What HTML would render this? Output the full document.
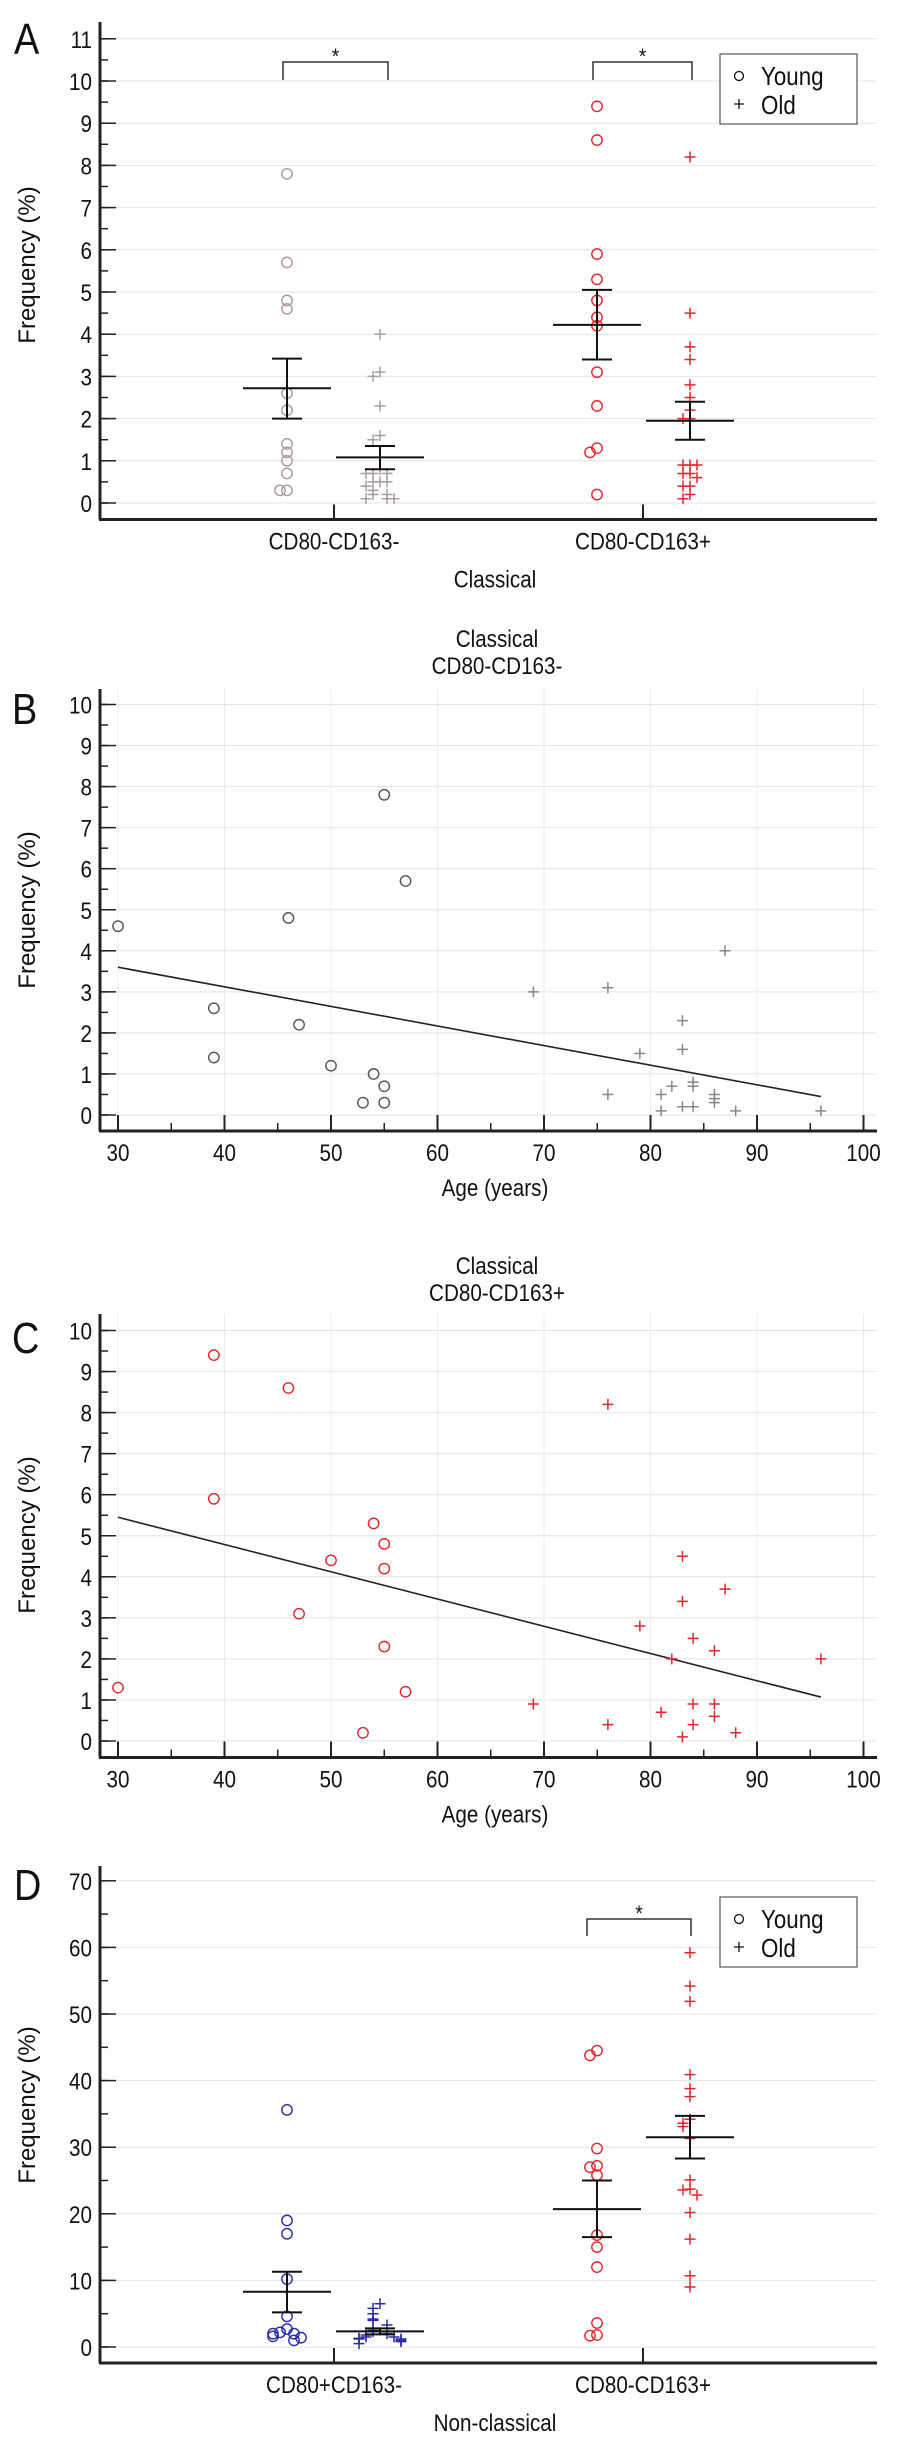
<!DOCTYPE html>
<html><head><meta charset="utf-8"><style>
body{margin:0;background:#fff}
svg{display:block;font-family:"Liberation Sans",sans-serif}
</style></head><body>
<svg id="fig" width="900" height="2443" viewBox="0 0 900 2443" xmlns="http://www.w3.org/2000/svg"></svg>
<script>
// Panel A data (Classical)
const catsA = ["CD80-CD163-","CD80-CD163+"];
const aYoung1 = [7.8,5.7,4.8,4.6,2.6,2.2,1.4,1.2,1.0,0.7,0.3,0.3];
const aOld1 = [4.0,3.1,3.0,2.3,1.6,1.5,0.8,0.7,0.7,0.7,0.5,0.5,0.5,0.4,0.3,0.2,0.2,0.1,0.1,0.1];
const aYoung2 = [9.4,8.6,5.9,5.3,4.8,4.4,4.2,3.1,2.3,1.3,1.2,0.2];
const aOld2 = [8.2,4.5,3.7,3.4,2.8,2.5,2.2,2.0,2.0,0.9,0.9,0.9,0.7,0.7,0.6,0.4,0.4,0.2,0.1];
const aMeans = [2.72,1.08,4.22,1.95];
const aErrLo = [2.0,0.8,3.4,1.5];
const aErrHi = [3.42,1.35,5.05,2.4];
const aTicks = [0,1,2,3,4,5,6,7,8,9,10,11];
// Panel B data
const bYoungAge = [30,39,39,46,47,50,54,55,55,53,55,57];
const bYoungVal = [4.6,2.6,1.4,4.8,2.2,1.2,1.0,0.7,0.3,0.3,7.8,5.7];
const bOldAge = [69,76,76,79,81,81,82,83,83,83,84,84,84,86,86,86,87,88,96];
const bOldVal = [3.0,3.1,0.5,1.5,0.5,0.1,0.7,2.3,1.6,0.2,0.8,0.7,0.2,0.5,0.4,0.3,4.0,0.1,0.1];
const bFit = [3.6,0.45];
// Panel C data
const cYoungAge = [39,46,39,54,55,50,55,47,55,30,57,53];
const cYoungVal = [9.4,8.6,5.9,5.3,4.8,4.4,4.2,3.1,2.3,1.3,1.2,0.2];
const cOldAge = [76,83,87,83,79,84,86,82,96,69,84,86,81,86,76,84,88,83];
const cOldVal = [8.2,4.5,3.7,3.4,2.8,2.5,2.2,2.0,2.0,0.9,0.9,0.9,0.7,0.6,0.4,0.4,0.2,0.1];
const cFit = [5.45,1.07];
const fitAges = [30,96];
const ageTicks = [30,40,50,60,70,80,90,100];
const freqTicks = [0,1,2,3,4,5,6,7,8,9,10];
// Panel D data (Non-classical)
const catsD = ["CD80+CD163-","CD80-CD163+"];
const dYoung1 = [35.6,19,17,10.2,4.6,2.7,2.2,2.0,2.0,1.6,1.4,1.0];
const dOld1 = [6.5,5.8,5.0,4.2,4.0,3.3,2.5,2.3,2.0,1.8,1.5,1.5,1.3,1.2,1.2,1.0,0.8,0.5];
const dYoung2 = [44.5,43.8,29.8,27.2,27.0,25.8,16.8,15.0,12.0,3.6,1.8,1.7];
const dOld2 = [59.2,54.2,51.9,40.9,38.8,37.6,34.2,33.6,33.1,31.3,25.1,23.7,23.6,22.8,20.2,16.2,10.7,9.0];
const dMeans = [8.3,2.35,20.7,31.5];
const dErrLo = [5.2,1.9,16.5,28.3];
const dErrHi = [11.3,2.8,25.0,34.7];
const dTicks = [0,10,20,30,40,50,60,70];

const NS="http://www.w3.org/2000/svg";
const svg=document.getElementById('fig');
function mk(tag,attrs,parent,text){const e=document.createElementNS(NS,tag);for(const k in attrs)e.setAttribute(k,attrs[k]);if(text!==undefined)e.textContent=text;(parent||svg).appendChild(e);return e;}
function txt(x,y,s,size,anchor,parent,name,extra){
  const a=Object.assign({x:0,y:0,'font-size':size,'text-anchor':anchor||'middle',fill:'#111',transform:`translate(${x},${y}) scale(0.86,1)`},extra||{});
  const t=mk('text',a,parent,s);
  
  
  return t;}
const L=100, R=877;

function circle(g,x,y,col,name){const c=mk('circle',{cx:x,cy:y,r:5.2,fill:'none',stroke:col,'stroke-width':1.4},g);

}
function plus(g,x,y,col,name){const p=mk('path',{d:`M${x-5.5},${y}h11M${x},${y-5.5}v11`,stroke:col,'stroke-width':1.5,fill:'none'},g);

}

function yAxis(g,top,y,ticks,minorStep,axisBottom){
  mk('line',{x1:L,y1:top,x2:L,y2:axisBottom,stroke:'#222','stroke-width':3},g);
  const lo=ticks[0],hi=ticks[ticks.length-1];
  for(let v=lo;v<=hi+1e-9;v+=minorStep){mk('line',{x1:L,y1:y(v),x2:L+8,y2:y(v),stroke:'#222','stroke-width':1.5},g);}
  ticks.forEach(v=>{
    mk('line',{x1:L,y1:y(v),x2:R,y2:y(v),stroke:'#e4e4e4','stroke-width':1},g);
    mk('line',{x1:L,y1:y(v),x2:L+16,y2:y(v),stroke:'#222','stroke-width':1.5},g);
    txt(L-8,y(v)+9,String(v),24,'end',g,'y-tick-label');
  });
}
function yTitle(g,cy){txt(0,0,'Frequency (%)',24,'middle',g,'y-axis-title',{transform:`translate(35,${cy}) rotate(-90)`});}

function jitterX(vals,cx,thr,step){
  const out=[];
  vals.forEach((v,i)=>{let k=0;for(let j=0;j<i;j++){if(Math.abs(vals[j]-v)<thr)k++;}
    const off=k===0?0:(k%2===1?-1:1)*Math.ceil(k/2)*step;out.push(cx+off);});
  return out;
}

function dotPanel(opts){
  const g=mk('g',{});
  
  
  const y=v=>opts.y0-(v-opts.ticks[0])*opts.unit;
  yAxis(g,opts.top,y,opts.ticks,opts.minor,opts.axisY);
  mk('line',{x1:L-1,y1:opts.axisY,x2:R,y2:opts.axisY,stroke:'#222','stroke-width':3},g);
  const catX=[334,643];
  catX.forEach((cx,i)=>{mk('line',{x1:cx,y1:opts.axisY,x2:cx,y2:opts.axisY-15,stroke:'#222','stroke-width':2},g);
    txt(cx,opts.axisY+30,opts.cats[i],24,'middle',g,'category-label');});
  txt(495,opts.axisY+68,opts.xTitle,24,'middle',g,'x-axis-title');
  yTitle(g,opts.titleY);
  txt(14,opts.letterY,opts.letter,44,'start',g,'panel-letter');
  const groups=[[opts.y1,catX[0]-47,'c',opts.col1y],[opts.o1,catX[0]+46,'p',opts.col1o],[opts.y2,catX[1]-46,'c',opts.col2y],[opts.o2,catX[1]+47,'p',opts.col2o]];
  groups.forEach((gr,gi)=>{
    const xs=jitterX(gr[0],gr[1],opts.thr,opts.step);
    gr[0].forEach((v,i)=>{ if(gr[2]==='c')circle(g,xs[i],y(v),gr[3],'young-point'); else plus(g,xs[i],y(v),gr[3],'old-point');});
    const cx=gr[1];
    const m=mk('line',{x1:cx-44,y1:y(opts.means[gi]),x2:cx+44,y2:y(opts.means[gi]),stroke:'#111','stroke-width':2},g);
    
    
    const e=mk('path',{d:`M${cx},${y(opts.lo[gi])}V${y(opts.hi[gi])}M${cx-15},${y(opts.lo[gi])}h30M${cx-15},${y(opts.hi[gi])}h30`,stroke:'#111','stroke-width':2,fill:'none'},g);
    
    
  });
  opts.brackets.forEach(b=>{
    const br=mk('path',{d:`M${b[0]},${b[3]}V${b[2]}H${b[1]}V${b[3]}`,stroke:'#333','stroke-width':1.5,fill:'none'},g);
    
    
    txt((b[0]+b[1])/2,b[2]+2,'*',22,'middle',g,'significance-star');
  });
  const lg=mk('g',{},g);
  
  
  const ly=opts.legendY;
  mk('rect',{x:720,y:ly,width:137,height:70,fill:'#fff',stroke:'#555','stroke-width':1.2},lg);
  mk('circle',{cx:739,cy:ly+22,r:4.5,fill:'none',stroke:'#111','stroke-width':1.3},lg);
  txt(761,ly+31,'Young',26,'start',lg,'legend-young');
  mk('path',{d:`M${734},${ly+50}h10M${739},${ly+45}v10`,stroke:'#111','stroke-width':1.3},lg);
  txt(761,ly+60,'Old',26,'start',lg,'legend-old');
}

dotPanel({name:'panel-a',top:22,y0:503,unit:42.2,ticks:aTicks,minor:0.5,axisY:519.5,cats:catsA,xTitle:'Classical',titleY:265,letter:'A',letterY:54,
  y1:aYoung1,o1:aOld1,y2:aYoung2,o2:aOld2,col1y:'#ae979c',col1o:'#a89ea0',col2y:'#e3262d',col2o:'#e3262d',
  means:aMeans,lo:aErrLo,hi:aErrHi,thr:0.12,step:7,brackets:[[283,388,62,80],[593,692,62,80]],legendY:54});

dotPanel({name:'panel-d',top:1866,y0:2347,unit:6.66,ticks:dTicks,minor:5,axisY:2363,cats:catsD,xTitle:'Non-classical',titleY:2105,letter:'D',letterY:1900,
  y1:dYoung1,o1:dOld1,y2:dYoung2,o2:dOld2,col1y:'#2b2ba8',col1o:'#2b2ba8',col2y:'#e3262d',col2o:'#e3262d',
  means:dMeans,lo:dErrLo,hi:dErrHi,thr:1.0,step:7,brackets:[[587,691,1919,1936]],legendY:1897});

function scatterPanel(opts){
  const g=mk('g',{});
  
  
  const y=v=>opts.y0-v*opts.unit;
  const x=a=>118+(a-30)*10.65;
  ageTicks.forEach(a=>mk('line',{x1:x(a),y1:opts.top,x2:x(a),y2:opts.axisY,stroke:'#ececec','stroke-width':1},g));
  yAxis(g,opts.top,y,freqTicks,0.5,opts.axisY);
  mk('line',{x1:L-1,y1:opts.axisY,x2:R,y2:opts.axisY,stroke:'#222','stroke-width':3},g);
  for(let a=30;a<=100;a+=5){const major=a%10===0;
    mk('line',{x1:x(a),y1:opts.axisY,x2:x(a),y2:opts.axisY-(major?16:8),stroke:'#222','stroke-width':major?2:1.5},g);}
  ageTicks.forEach(a=>txt(x(a),opts.axisY+30,String(a),24,'middle',g,'x-tick-label'));
  txt(495,opts.axisY+65,'Age (years)',24,'middle',g,'x-axis-title');
  txt(497,opts.t1,'Classical',24,'middle',g,'chart-title');
  txt(497,opts.t1+27,opts.sub,24,'middle',g,'chart-subtitle');
  yTitle(g,opts.titleY);
  txt(12,opts.letterY,opts.letter,44,'start',g,'panel-letter');
  const fl=mk('line',{x1:x(fitAges[0]),y1:y(opts.fit[0]),x2:x(fitAges[1]),y2:y(opts.fit[1]),stroke:'#222','stroke-width':1.6},g);
  
  
  opts.ya.forEach((a,i)=>circle(g,x(a),y(opts.yv[i]),opts.cy,'young-point'));
  opts.oa.forEach((a,i)=>plus(g,x(a),y(opts.ov[i]),opts.co,'old-point'));
}
scatterPanel({name:'panel-b',top:689,y0:1115,unit:41.05,axisY:1131,sub:'CD80-CD163-',t1:647,titleY:910,letter:'B',letterY:724,
  ya:bYoungAge,yv:bYoungVal,oa:bOldAge,ov:bOldVal,fit:bFit,cy:'#555',co:'#888'});
scatterPanel({name:'panel-c',top:1314,y0:1741,unit:41.05,axisY:1757.5,sub:'CD80-CD163+',t1:1274,titleY:1535,letter:'C',letterY:1353,
  ya:cYoungAge,yv:cYoungVal,oa:cOldAge,ov:cOldVal,fit:cFit,cy:'#e3262d',co:'#e3262d'});
</script>
</body></html>
